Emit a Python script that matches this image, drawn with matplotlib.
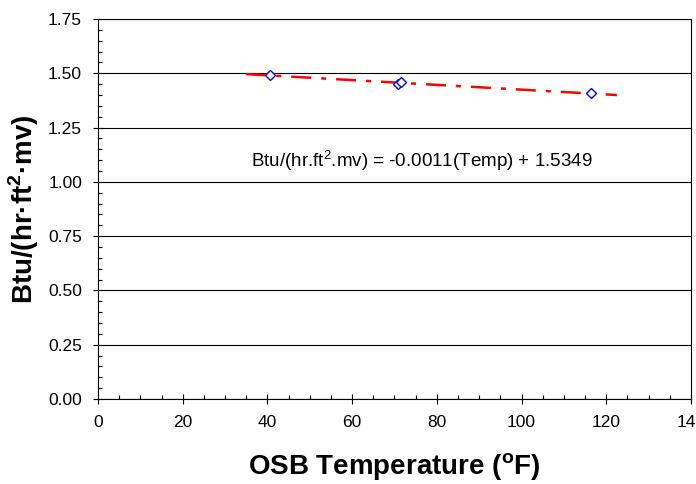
import numpy as np
import matplotlib.pyplot as plt
from matplotlib.ticker import MultipleLocator

plt.rcParams['font.family'] = ['Liberation Sans', 'DejaVu Sans']

# Measured points
temp = [40.5, 70.8, 71.5, 116.5]
btu = [1.493, 1.452, 1.460, 1.410]

# Linear fit shown on the chart
slope, intercept = -0.0011, 1.5349
fit_x = [35, 122.5]

fig = plt.figure(figsize=(6.96, 4.84), dpi=100)
ax = fig.add_axes([0.1408, 0.1756, 0.852, 0.785])

fx = np.array(fit_x)
ax.plot(fx, slope * fx + intercept, color="red", lw=1.8, ls=(0, (8, 4, 2, 4)), zorder=3)
ax.plot(temp, btu, ls="none", marker="D", ms=5, mfc="white", mec="blue", mew=1, zorder=4)

ax.text(76.4, 1.097, "Btu/(hr.ft$^\\mathregular{2}$.mv) = -0.0011(Temp) + 1.5349",
        ha="center", va="center", fontsize=13.5)

ax.set_xlim(0, 140)
ax.set_ylim(0, 1.75)
ax.xaxis.set_major_locator(MultipleLocator(20))
ax.xaxis.set_minor_locator(MultipleLocator(5))
ax.yaxis.set_major_locator(MultipleLocator(0.25))
ax.yaxis.set_minor_locator(MultipleLocator(0.05))
ax.yaxis.set_major_formatter(lambda v, p: f"{v:.2f}")
ax.grid(True, axis="y", which="major", color="black", lw=0.8)
ax.tick_params(which="major", direction="inout", length=7, width=0.8, labelsize=12.5, pad=8)
ax.tick_params(which="minor", direction="in", length=3, width=0.8)
for s in ax.spines.values():
    s.set_linewidth(0.8)

ax.set_xlabel("OSB Temperature ($^\\mathregular{o}$F)", fontsize=20, fontweight="bold", labelpad=15)
ax.set_ylabel("Btu/(hr·ft$^\\mathregular{2}$·mv)", fontsize=20, fontweight="bold", labelpad=5)

plt.savefig("out.png", dpi=100)
